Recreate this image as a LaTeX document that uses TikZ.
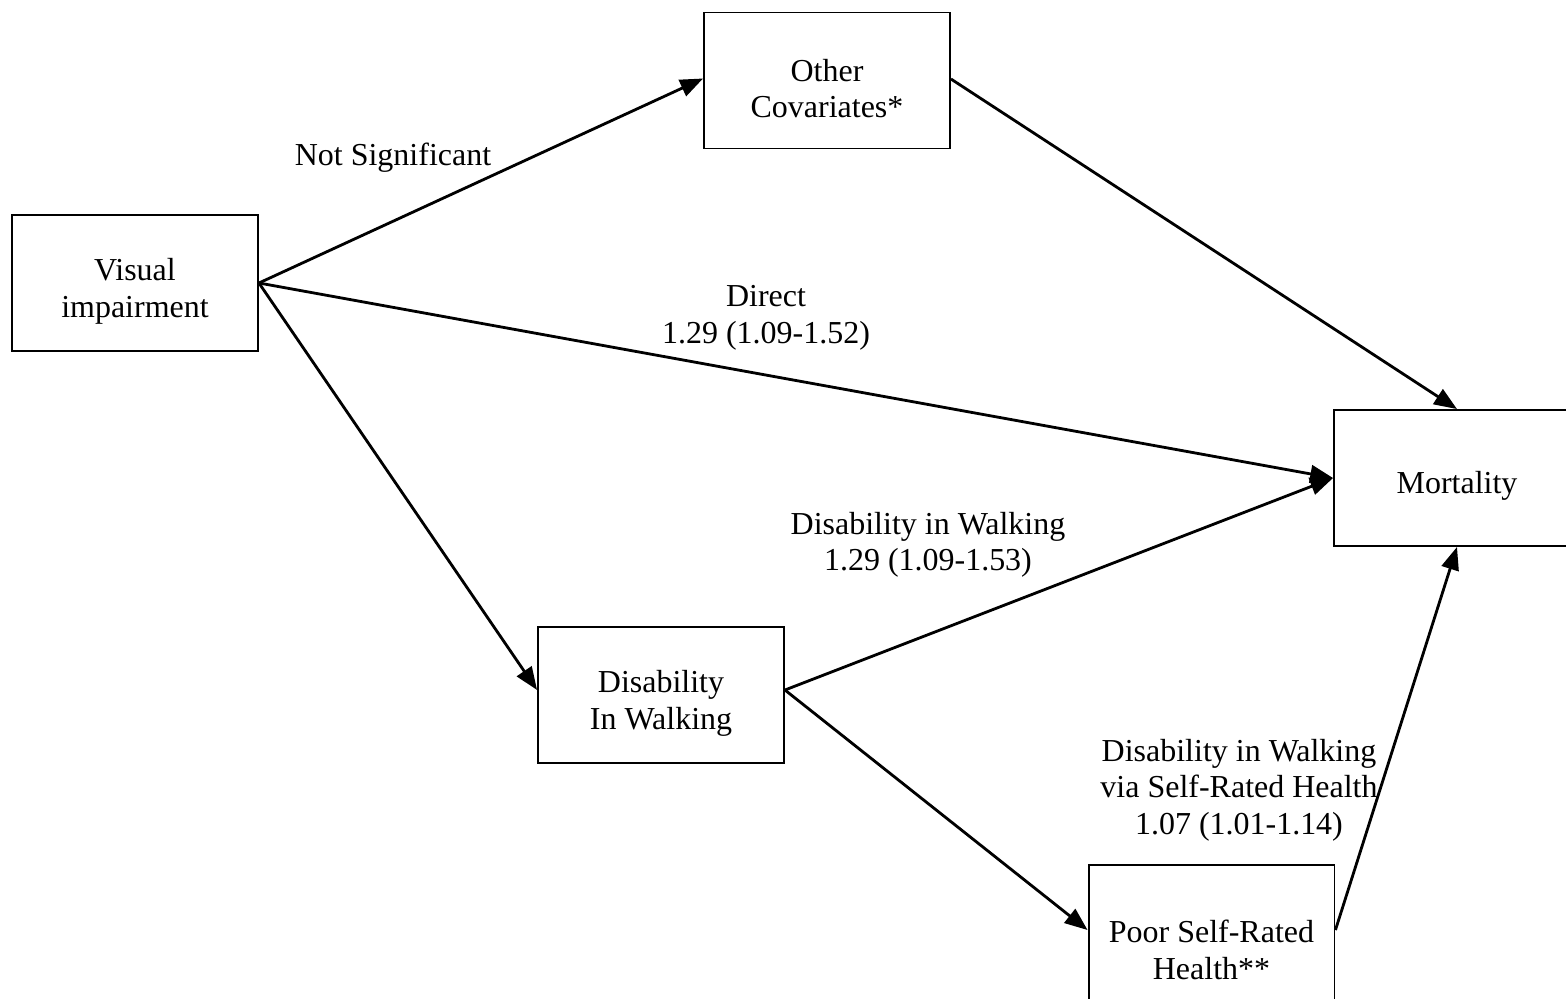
\documentclass[tikz,border=0pt]{standalone}
\usepackage{fontspec}
\setmainfont{Liberation Serif}
\usetikzlibrary{arrows.meta}
% taller first line so box text sits slightly low
\newcommand\toproom{\rule{0pt}{22pt}}
\begin{document}
\begin{tikzpicture}[x=0.02cm,y=-0.02cm,
  box/.style={draw,line width=1.1pt,minimum width=4.92cm,minimum height=2.72cm,
    align=center,inner sep=0pt,font=\fontsize{18.2}{20.8}\selectfont},
  lbl/.style={align=center,inner sep=0pt,font=\fontsize{18.2}{20.8}\selectfont},
  link/.style={line width=1.6pt,-{Triangle[length=13pt,width=10pt]}}]
\useasboundingbox (0,0) rectangle (1566,998);
\clip (0,0) rectangle (1566,998);
% boxes
\node[box] (vi) at (135,283) {\toproom Visual\\impairment};
\node[box] (oc) at (827,80.5) {\toproom Other\\Covariates*};
\node[box] (mo) at (1457,478) {\toproom Mortality};
\node[box] (dw) at (661,695) {\toproom Disability\\In Walking};
\node[box,minimum height=3.08cm] (ps) at (1211.5,942) {\toproom Poor Self-Rated\\Health**};
% paths
\draw[link] (vi.east) -- ([yshift=0.04cm]oc.west);
\draw[link] ([yshift=0.03cm]oc.east) -- (mo.north);
\draw[link] (vi.east) -- (mo.west);
\draw[link] (vi.east) -- ([yshift=0.1cm]dw.west);
\draw[link] ([yshift=0.1cm]dw.east) -- (mo.west);
\draw[link] ([yshift=0.1cm]dw.east) -- ([yshift=0.24cm]ps.west);
\draw[link] ([yshift=0.24cm]ps.east) -- (mo.south);
% path labels
\node[lbl] (l1) at (393,158) {Not Significant};
\node[lbl] (l2) at (766,318) {Direct\\1.29 (1.09-1.52)};
\node[lbl] (l3) at (928,545) {Disability in Walking\\1.29 (1.09-1.53)};
\node[lbl] (l4) at (1239,790) {Disability in Walking\\via Self-Rated Health\\1.07 (1.01-1.14)};
\end{tikzpicture}
\end{document}
